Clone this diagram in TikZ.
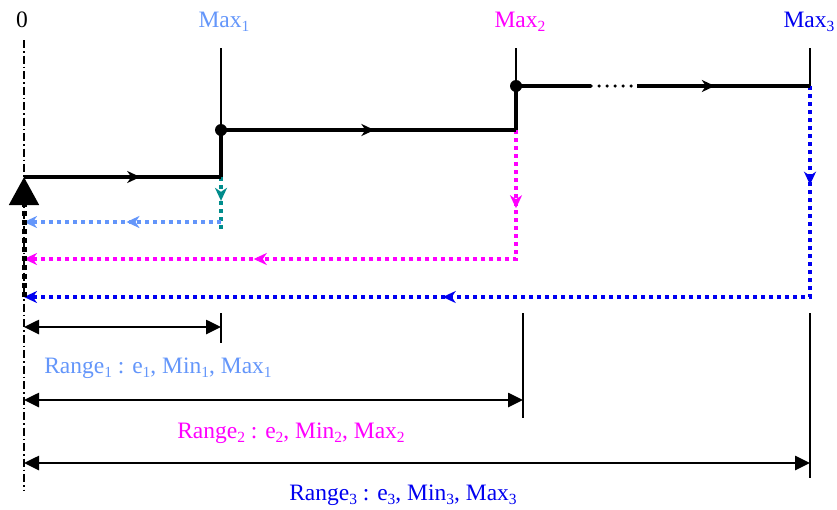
\documentclass[tikz,border=0pt]{standalone}
\usepackage{fontspec}
\setmainfont{Liberation Serif}
\usepackage{xcolor}
\usepackage{tikz}
\usetikzlibrary{arrows.meta, decorations.markings}

\definecolor{rangeone}{RGB}{100,150,250}
\definecolor{rangetwo}{RGB}{255,0,255}
\definecolor{rangethree}{RGB}{0,0,240}
\definecolor{fallback}{RGB}{0,140,140}

% lowered index, as in Max_1
\newcommand{\idx}[1]{\raisebox{-0.45ex}{\fontsize{15.5}{16}\selectfont #1}}

\begin{document}
\begin{tikzpicture}[
    x=1pt, y=-1pt,
    font=\fontsize{23.5}{27}\selectfont,
    axisline/.style={line width=1.5pt, dash pattern=on 8pt off 3pt on 1.5pt off 3pt},
    stepline/.style={line width=3.5pt},
    tickline/.style={line width=1.6pt},
    gapdots/.style={line width=3.5pt, line cap=round, dash pattern=on 0pt off 8pt},
    dotline/.style={line width=3.8pt, dash pattern=on 4pt off 4pt},
    ruler/.style={{Triangle[length=15pt,width=14pt]}-{Triangle[length=15pt,width=14pt]}, line width=2.6pt},
    midmark/.style={postaction={decorate, decoration={markings,
        mark=at position #1 with {\arrow{Stealth[length=13pt,width=12pt,inset=4pt]}}}}},
    backtip/.style={-{Stealth[length=13pt,width=12pt,inset=4pt]}},
    lbl/.style={anchor=base, inner sep=0pt},
]

\useasboundingbox (0,0) rectangle (837,509);

% --- Coordinates: origin, steps, rulers ---
\coordinate (axtop) at (24,40);
\coordinate (axbot) at (24,490);
\coordinate (o)     at (24,177);
\coordinate (s1b)   at (221,177);
\coordinate (s1t)   at (221,130);
\coordinate (s2b)   at (516,130);
\coordinate (s2t)   at (516,86);
\coordinate (gapL)  at (591,86);
\coordinate (gapR)  at (637,86);
\coordinate (s3e)   at (810,86);

\coordinate (t1)  at (221,230);
\coordinate (c1)  at (221,222);
\coordinate (e1)  at (24,222);
\coordinate (e2)  at (24,259);
\coordinate (e3)  at (24,297);

% --- Labels ---
\node[lbl] (zero) at (22,27) {0};
\node[lbl, text=rangeone]   (max1) at (224,27) {Max\idx{1}};
\node[lbl, text=rangetwo]   (max2) at (520,27) {Max\idx{2}};
\node[lbl, text=rangethree] (max3) at (809,27) {Max\idx{3}};

\node[lbl, text=rangeone]   (range1) at (158,373) {Range\idx{1} : e\idx{1}, Min\idx{1}, Max\idx{1}};
\node[lbl, text=rangetwo]   (range2) at (291,438) {Range\idx{2} : e\idx{2}, Min\idx{2}, Max\idx{2}};
\node[lbl, text=rangethree] (range3) at (403,500) {Range\idx{3} : e\idx{3}, Min\idx{3}, Max\idx{3}};

% axis through the origin
\draw[axisline] (axtop) -- (axbot);

% ===================== TICKS =====================
\draw[tickline] (221,48) -- (s1t);
\draw[tickline] (516,48) -- (s2t);
\draw[tickline] (810,48) -- (s3e);

\draw[tickline] (221,313) -- (221,343);
\draw[tickline] (523,313) -- (523,418);
\draw[tickline] (810,313) -- (810,478);

% ===================== FALLBACK PATHS =====================

% step 1 -> back to origin
\draw[dotline, fallback, midmark=0.45] (s1b) -- (t1);
\draw[dotline, rangeone, backtip, midmark=0.48] (c1) -- (e1);

% step 2 -> back to origin
\draw[dotline, rangetwo, backtip, midmark=0.126, midmark=0.63] (s2b) |- (e2);

% step 3 -> back to origin
\draw[dotline, rangethree, backtip, midmark=0.099, midmark=0.58] (s3e) |- (e3);

% return to the origin (big head)
\draw[line width=5pt, dash pattern=on 5pt off 4pt, -{Triangle[length=28pt,width=29pt]}] (e3) -- (o);

% ===================== STEPS =====================
\draw[stepline, midmark=0.59] (o) -- (s1b);
\draw[stepline] (s1b) -- (s1t);
\draw[stepline, midmark=0.52] (s1t) -- (s2b);
\draw[stepline] (s2b) -- (s2t);
\draw[stepline] (s2t) -- (gapL);
\draw[gapdots] (gapL) -- (gapR);
\draw[stepline, midmark=0.45] (gapR) -- (s3e);

\fill (s1t) circle (6pt);
\fill (s2t) circle (6pt);

% ===================== RULERS =====================
\draw[ruler] (24,327) -- (221,327);
\draw[ruler] (24,400) -- (523,400);
\draw[ruler] (24,463) -- (810,463);

\end{tikzpicture}
\end{document}
